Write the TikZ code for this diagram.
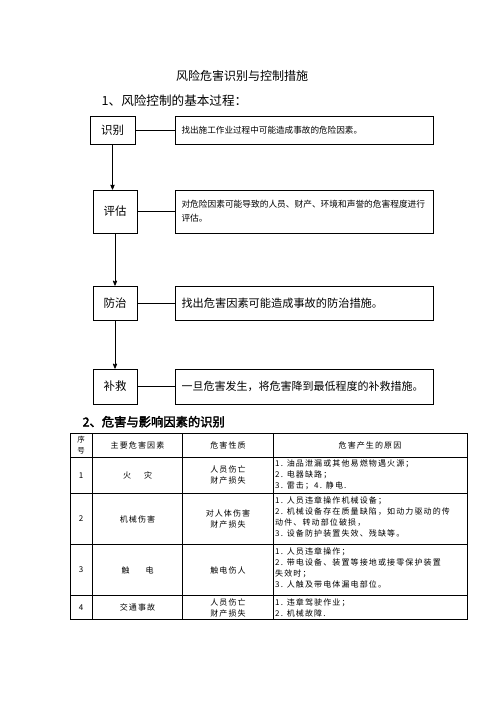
\documentclass[tikz,border=0pt]{standalone}
\usepackage{fontspec}
\setmainfont{Noto Sans CJK SC}[AutoFakeBold=2.5]
\usepackage{tikz}
\usetikzlibrary{calc}
\usetikzlibrary{arrows}
\newcommand{\tblfont}{\fontsize{8}{11}\selectfont\addfontfeatures{LetterSpace=14}}
\tikzset{stepname/.style={draw, line width=.8pt, minimum width=44pt, inner sep=0pt, font=\fontsize{11.5}{13}\selectfont}}
\tikzset{descbox/.style={draw, line width=.8pt, text width=245pt, inner xsep=6.5pt, inner ysep=0pt, align=left}}
\tikzset{cell/.style={inner sep=0pt, align=center, font=\tblfont}}
\tikzset{reason/.style={anchor=north west, inner sep=0pt, align=left, font=\tblfont}}

\begin{document}
\begin{tikzpicture} [x=1pt, y=-1pt]
\useasboundingbox (0,0) rectangle (496,702);
\node (title) at (242,76) {\fontsize{12}{14}\selectfont 风险危害识别与控制措施};
\node[anchor=west, inner sep=0pt] (sub1) at (101.5,100.7) {\fontsize{12.6}{14}\selectfont 1、风险控制的基本过程：};
\node[stepname, minimum width=45pt, minimum height=28pt] (s1) at (112.5,130) {识别};
\node[stepname, minimum height=43pt] (s2) at (115,211.5) {评估};
\node[stepname, minimum height=34pt] (s3) at (115,303) {防治};
\node[stepname, minimum height=35pt] (s4) at (115,386.5) {补救};
\node[descbox, minimum height=28pt, font=\fontsize{8.6}{12}\selectfont] (d1) at (304,130) {找出施工作业过程中可能造成事故的危险因素。};
\node[descbox, minimum height=43pt, font=\fontsize{8.7}{14}\selectfont] (d2) at (304,211.5) {对危险因素可能导致的人员、财产、环境和声誉的危害程度进行\\评估。};
\node[descbox, minimum height=34pt, font=\fontsize{11.2}{13}\selectfont] (d3) at (304,303) {找出危害因素可能造成事故的防治措施。};
\node[descbox, minimum height=35pt, font=\fontsize{11}{13}\selectfont] (d4) at (304,386.5) {一旦危害发生，将危害降到最低程度的补救措施。};
\draw[line width=.8pt] (s1) -- (d1);
\draw[line width=.8pt] (s2) -- (d2);
\draw[line width=.8pt] (s3) -- (d3);
\draw[line width=.8pt] (s4) -- (d4);
\draw[line width=.8pt,->,>=stealth'] (s1.south) -- (s1.south |- s2.north);
\draw[line width=.8pt,->,>=stealth'] (s2.south) -- (s3.north);
\draw[line width=.8pt,->,>=stealth'] (s3.south) -- (s4.north);

\node[anchor=west, inner sep=0pt, font=\fontsize{12.3}{14}\selectfont\bfseries] (sub2) at (82.5,421.7) {2、危害与影响因素的识别};
\draw[line width=.8pt] (70,433) rectangle (467,619.5);
\foreach \x in {92.3,182.7,273.3} \draw[line width=.8pt] (\x,433) -- (\x,619.5);
\foreach \y in {457,493.5,544.5,595.5} \draw[line width=.8pt] (70,\y) -- (467,\y);
\node[cell, font=\fontsize{7.5}{10.5}\selectfont] (hno) at (81,445) {序\\号};
\node[cell] (hsrc) at (137.5,445) {主要危害因素};
\node[cell] (hnat) at (228,445) {危害性质};
\node[cell] (hwhy) at (370,445) {危害产生的原因};
\node[cell] (n1) at (81,475.3) {1};
\node[cell] (n2) at (81,519) {2};
\node[cell] (n3) at (81,570) {3};
\node[cell] (n4) at (81,607.5) {4};
\node[cell] (src1) at (137.5,475.3) {火\hspace{13pt}灾};
\node[cell] (src2) at (137.5,519) {机械伤害};
\node[cell] (src3) at (137.5,570) {触\hspace{16pt}电};
\node[cell] (src4) at (137.5,607.5) {交通事故};
\node[cell] (nat1) at (228,475.3) {人员伤亡\\财产损失};
\node[cell] (nat2) at (228,519) {对人体伤害\\财产损失};
\node[cell] (nat3) at (228,570) {触电伤人};
\node[cell] (nat4) at (228,607.5) {人员伤亡\\财产损失};
\node[reason] (why1) at (275,460) {1. 油品泄漏或其他易燃物遇火源；\\2. 电器缺路；\\3. 雷击；4. 静电.};
\node[reason] (why2) at (275,496.5) {1. 人员违章操作机械设备；\\2. 机械设备存在质量缺陷，如动力驱动的传\\动件、转动部位破损，\\3. 设备防护装置失效、残缺等。};
\node[reason] (why3) at (275,547.5) {1. 人员违章操作；\\2. 带电设备、装置等接地或接零保护装置\\失效时；\\3. 人触及带电体漏电部位。};
\node[reason] (why4) at (275,598.5) {1. 违章驾驶作业；\\2. 机械故障.};
\end{tikzpicture}
\end{document}
